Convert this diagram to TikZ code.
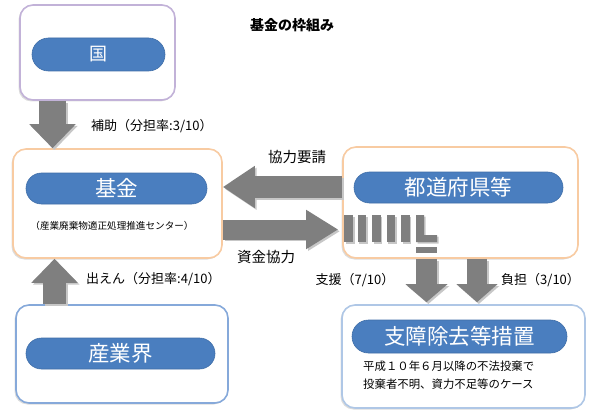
\documentclass[tikz,border=0pt]{standalone}
\usepackage{fontspec}
\setmainfont{Noto Sans CJK JP}
\usetikzlibrary{arrows.meta,shadows,shapes.misc}
\definecolor{pillblue}{HTML}{4A7EBF}
\definecolor{pilledge}{HTML}{3F6EA8}
\definecolor{lavender}{HTML}{C2B2D8}
\definecolor{peach}{HTML}{F8CBA2}
\definecolor{paleblue}{HTML}{AFC7E6}
\definecolor{midblue}{HTML}{86A9DA}
\definecolor{arrowgray}{HTML}{7F7F7F}
\tikzset{
  box/.style={draw, line width=1.6pt, rounded corners=13pt, fill=white, inner sep=0pt,
    drop shadow={opacity=0.28, shadow xshift=-1.5pt, shadow yshift=-1.5pt}},
  pill/.style={rounded rectangle, fill=pillblue, draw=pilledge, line width=0.6pt,
    text=white, inner sep=0pt, font=\fontsize{21.5}{21.5}\selectfont},
  blockarrow/.style n args={3}{draw=arrowgray, line width=#1, -{Triangle[width=#2,length=#3,fill=arrowgray]}},
  arrowshade/.style={draw=black!22, transform canvas={xshift=1.8pt,yshift=-1.8pt}},
  lbl/.style={font=\fontsize{13}{13}\selectfont, inner sep=0pt},
  stripe/.style={fill=arrowgray, draw=none}
}
\begin{document}
\begin{tikzpicture}[x=1pt,y=-1pt]
\useasboundingbox (0,0) rectangle (595,420);

% title
\node[font=\fontsize{14}{14}\selectfont\bfseries] (title) at (292,25) {基金の枠組み};

% boxes
\node[box, draw=lavender, minimum width=155pt, minimum height=95pt] (kuni) at (97.5,52.5) {};
\node[box, draw=peach, minimum width=209pt, minimum height=109pt] (kikin) at (117.5,203.5) {};
\node[box, draw=peach, minimum width=235pt, minimum height=111pt] (tofuken) at (460.5,202.5) {};
\node[box, draw=paleblue, minimum width=243pt, minimum height=103pt] (soshou) at (463.5,356.5) {};
\node[box, draw=midblue, minimum width=212pt, minimum height=98pt] (sangyo) at (122,354) {};

% pills
\node[pill, minimum width=133pt, minimum height=33pt, font=\fontsize{18}{18}\selectfont] (kunip) at (98.5,54.5) {国};
\node[pill, minimum width=181pt, minimum height=31pt] (kikinp) at (116.5,188.5) {基金};
\node[pill, minimum width=209pt, minimum height=31pt] (tofukenp) at (458.5,187.5) {都道府県等};
\node[pill, minimum width=215pt, minimum height=33pt] (soshoup) at (459.5,336.5) {支障除去等措置};
\node[pill, minimum width=189pt, minimum height=31pt] (sangyop) at (120.5,353.5) {産業界};

% sub texts
\node[font=\fontsize{9.6}{9.6}\selectfont, inner sep=0pt] (kikinsub) at (112,226) {（産業廃棄物適正処理推進センター）};
\node[font=\fontsize{11.4}{18}\selectfont, inner sep=0pt, align=left, anchor=north west] (soshousub) at (363,361)
  {平成１０年６月以降の不法投棄で\\投棄者不明、資力不足等のケース};

% arrow axes
\coordinate (ax1) at (52.5,0);
\coordinate (ax6) at (54.5,0);
\coordinate (ax4) at (426.5,0);
\coordinate (ax5) at (477,0);
\coordinate (ay2) at (0,187);
\coordinate (ay3) at (0,229.5);

% shadows of arrows
\draw[blockarrow={27pt}{45pt}{24pt}, arrowshade] (kuni.south -| ax1) -- (kikin.north -| ax1);
\draw[blockarrow={23pt}{45pt}{24pt}, arrowshade] (sangyo.north -| ax6) -- (kikin.south -| ax6);
\draw[blockarrow={22pt}{40pt}{32pt}, arrowshade] (tofuken.west |- ay2) -- (kikin.east |- ay2);
\draw[blockarrow={20pt}{37pt}{32pt}, arrowshade, shorten >=4pt] (kikin.east |- ay3) -- (tofuken.west |- ay3);
\draw[blockarrow={21pt}{41pt}{18pt}, arrowshade, shorten >=2pt] (tofuken.south -| ax4) -- (soshou.north -| ax4);
\draw[blockarrow={20pt}{40pt}{18pt}, arrowshade, shorten >=2pt] (tofuken.south -| ax5) -- (soshou.north -| ax5);

% arrows
\draw[blockarrow={27pt}{45pt}{24pt}] (kuni.south -| ax1) -- (kikin.north -| ax1);
\draw[blockarrow={23pt}{45pt}{24pt}] (sangyo.north -| ax6) -- (kikin.south -| ax6);
\draw[blockarrow={22pt}{40pt}{32pt}] (tofuken.west |- ay2) -- (kikin.east |- ay2);
\draw[blockarrow={20pt}{37pt}{32pt}, shorten >=4pt] (kikin.east |- ay3) -- (tofuken.west |- ay3);
\draw[blockarrow={21pt}{41pt}{18pt}, shorten >=2pt] (tofuken.south -| ax4) -- (soshou.north -| ax4);
\draw[blockarrow={20pt}{40pt}{18pt}, shorten >=2pt] (tofuken.south -| ax5) -- (soshou.north -| ax5);

% dashed continuation inside the prefecture box
\foreach \xa/\xb in {344/353, 357.5/366, 372/380.5, 386.5/395, 401/409.5}{
  \fill[black!22] (\xa+1.5,216.5) rectangle (\xb+1.5,243.5);
  \fill[stripe] (\xa,215) rectangle (\xb,242);
}
\fill[black!22] (417.5,216.5) -- (425.5,216.5) -- (425.5,236.5) -- (438.5,236.5) -- (438.5,243.5) -- (417.5,243.5) -- cycle;
\fill[stripe] (416,215) -- (424,215) -- (424,235) -- (437,235) -- (437,242) -- (416,242) -- cycle;
\fill[stripe] (416,247) rectangle (437,253);

% labels
\node[lbl, anchor=west] (l1) at (91,126) {補助（分担率:3/10）};
\node[lbl, font=\fontsize{14.5}{14.5}\selectfont] (l2) at (297,157) {協力要請};
\node[lbl, font=\fontsize{14.5}{14.5}\selectfont] (l3) at (266,257) {資金協力};
\node[lbl, anchor=west] (l4) at (86,279) {出えん（分担率:4/10）};
\node[lbl] (l5) at (355,280) {支援（7/10）};
\node[lbl, anchor=west] (l6) at (501,280) {負担（3/10）};
\end{tikzpicture}
\end{document}
